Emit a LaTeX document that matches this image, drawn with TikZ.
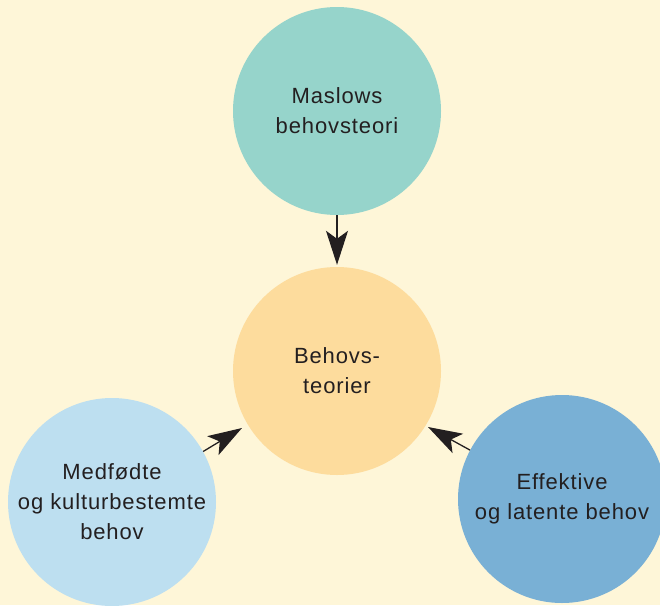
\documentclass[tikz,border=0pt]{standalone}
\usepackage{fontspec}
\setmainfont[LetterSpace=4]{Liberation Sans}
\usetikzlibrary{arrows.meta}
\definecolor{bgcream}{HTML}{FEF6D8}
\definecolor{tealc}{HTML}{96D4CB}
\definecolor{orangec}{HTML}{FDDC9D}
\definecolor{lightbluec}{HTML}{BDDFF0}
\definecolor{midbluec}{HTML}{79B0D5}
\definecolor{inkc}{HTML}{231F20}
\tikzset{
  bubble/.style={circle, minimum size=208pt, inner sep=0pt, align=center,
    text=inkc, font=\fontsize{22}{30}\selectfont},
  link/.style={draw=inkc, line width=1.3pt,
    -{Stealth[length=34pt, width=22pt, inset=8pt]}}
}
\begin{document}
\begin{tikzpicture}[x=1pt, y=-1pt]
  \clip (0,0) rectangle (660,605);
  \fill[bgcream] (0,0) rectangle (660,605);

  \node[bubble, fill=tealc]      (maslow) at (337,111) {Maslows\\behovsteori};
  \node[bubble, fill=orangec]    (core)   at (337,371) {Behovs-\\teorier};
  \node[bubble, fill=lightbluec] (innate) at (112,502) {Medfødte\\og kulturbestemte\\behov};
  \node[bubble, fill=midbluec]   (latent) at (562,499) {Effektive\\og latente behov};

  \draw[link, shorten >=2pt] (maslow.south) -- (core.north);
  \coordinate (innateend) at (242,428);
  \coordinate (latentend) at (428,427);
  \draw[link] (innate.29) -- (innateend);
  \draw[link] (latent.152) -- (latentend);
\end{tikzpicture}
\end{document}
